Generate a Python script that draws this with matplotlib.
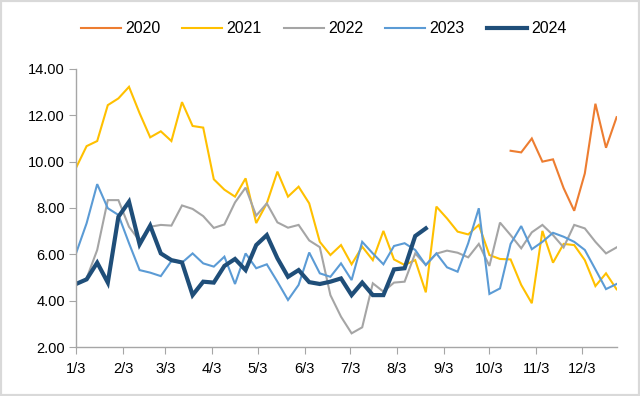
import numpy as np
import pandas as pd
import matplotlib
matplotlib.use("Agg")
import matplotlib.pyplot as plt
from matplotlib.patches import Rectangle
from datetime import datetime

plt.rcParams['font.family'] = ['Liberation Sans', 'DejaVu Sans']

nan = np.nan
dates = pd.date_range('2023-01-03', periods=52, freq='7D')

y2020 = [nan] * 41 + [10.47, 10.40, 11.00, 10.00, 10.10, 8.86, 7.88, 9.49, 12.50, 10.60, 11.92]
y2021 = [9.73, 10.67, 10.89, 12.44, 12.73, 13.23, 12.09, 11.05, 11.31, 10.89,
         12.57, 11.54, 11.47, 9.24, 8.79, 8.49, 9.28, 7.35, 8.20, 9.57,
         8.49, 8.92, 8.20, 6.54, 5.97, 6.40, 5.57, 6.33, 5.75, 7.01,
         5.78, 5.54, 5.75, 4.36, 8.06, 7.55, 6.98, 6.86, 7.27, 5.97,
         5.80, 5.78, 4.68, 3.89, 7.01, 5.64, 6.45, 6.40, 5.75, 4.63,
         5.18, 4.49]
y2022 = [4.68, 4.96, 6.19, 8.34, 8.34, 7.19, 6.58, 7.19, 7.27, 7.24,
         8.11, 7.96, 7.65, 7.14, 7.29, 8.24, 8.88, 7.67, 8.20, 7.38,
         7.15, 7.27, 6.60, 6.31, 4.24, 3.31, 2.59, 2.85, 4.75, 4.39,
         4.78, 4.82, 6.04, 5.54, 6.03, 6.16, 6.07, 5.87, 6.45, 5.50,
         7.37, 6.83, 6.26, 6.95, 7.27, 6.83, 6.30, 7.27, 7.12, 6.54,
         6.04, 6.30]
y2023 = [6.04, 7.34, 9.03, 7.99, 7.70, 6.48, 5.32, 5.21, 5.06, 5.71,
         5.64, 6.04, 5.61, 5.47, 5.90, 4.72, 6.04, 5.40, 5.57, 4.82,
         4.03, 4.68, 6.08, 5.18, 5.03, 5.61, 4.89, 6.54, 6.04, 5.57,
         6.36, 6.48, 6.19, 5.54, 6.04, 5.44, 5.25, 6.48, 7.99, 4.29,
         4.53, 6.45, 7.22, 6.22, 6.54, 6.93, 6.76, 6.54, 6.19, 5.35,
         4.50, 4.72]
y2024 = [4.72, 4.92, 5.64, 4.78, 7.62, 8.27, 6.43, 7.24, 6.04, 5.75,
         5.65, 4.24, 4.82, 4.78, 5.50, 5.80, 5.32, 6.40, 6.83, 5.83,
         5.03, 5.32, 4.80, 4.72, 4.82, 4.96, 4.24, 4.78, 4.24, 4.24,
         5.35, 5.40, 6.79, 7.12] + [nan] * 18

series = [
    ('2020', y2020, '#ED7D31', 1.5),
    ('2021', y2021, '#FFC000', 1.5),
    ('2022', y2022, '#A5A5A5', 1.5),
    ('2023', y2023, '#5B9BD5', 1.5),
    ('2024', y2024, '#1F4E79', 3.0),
]

fig = plt.figure(figsize=(6.4, 3.96), dpi=100)
ax = fig.add_axes([0.11875, 0.1237, 0.8447, 0.7021])

for name, vals, color, lw in series:
    ax.plot(dates, vals, color=color, lw=lw, label=name, solid_joinstyle='miter')

ax.set_xlim(dates[0], dates[-1])
ax.set_ylim(2, 14)
ax.set_yticks(np.arange(2, 15, 2))
ax.set_yticklabels([f"{v:.2f}" for v in np.arange(2, 15, 2)])
ticks = [datetime(2023, m, 3) for m in range(1, 13)]
ax.set_xticks(ticks)
ax.set_xticklabels([f"{m}/3" for m in range(1, 13)])

for s in ['top', 'right']:
    ax.spines[s].set_visible(False)
for s in ['left', 'bottom']:
    ax.spines[s].set_color('#A6A6A6')
    ax.spines[s].set_linewidth(1.0)
ax.tick_params(axis='both', direction='out', length=5, color='#A6A6A6',
               labelsize=10.5, labelcolor='#000000')
ax.tick_params(axis='y', pad=3)
ax.tick_params(axis='x', pad=6)

fig.legend(loc='center', bbox_to_anchor=(0.5055, 0.927), ncol=5, frameon=False,
           fontsize=11.5, handlelength=2.5, handletextpad=0.25, columnspacing=1.4)

fig.patches.append(Rectangle((0, 0), 1, 1, transform=fig.transFigure,
                             fill=False, edgecolor='#D9D9D9', lw=3))

fig.savefig('out.png', dpi=100)
